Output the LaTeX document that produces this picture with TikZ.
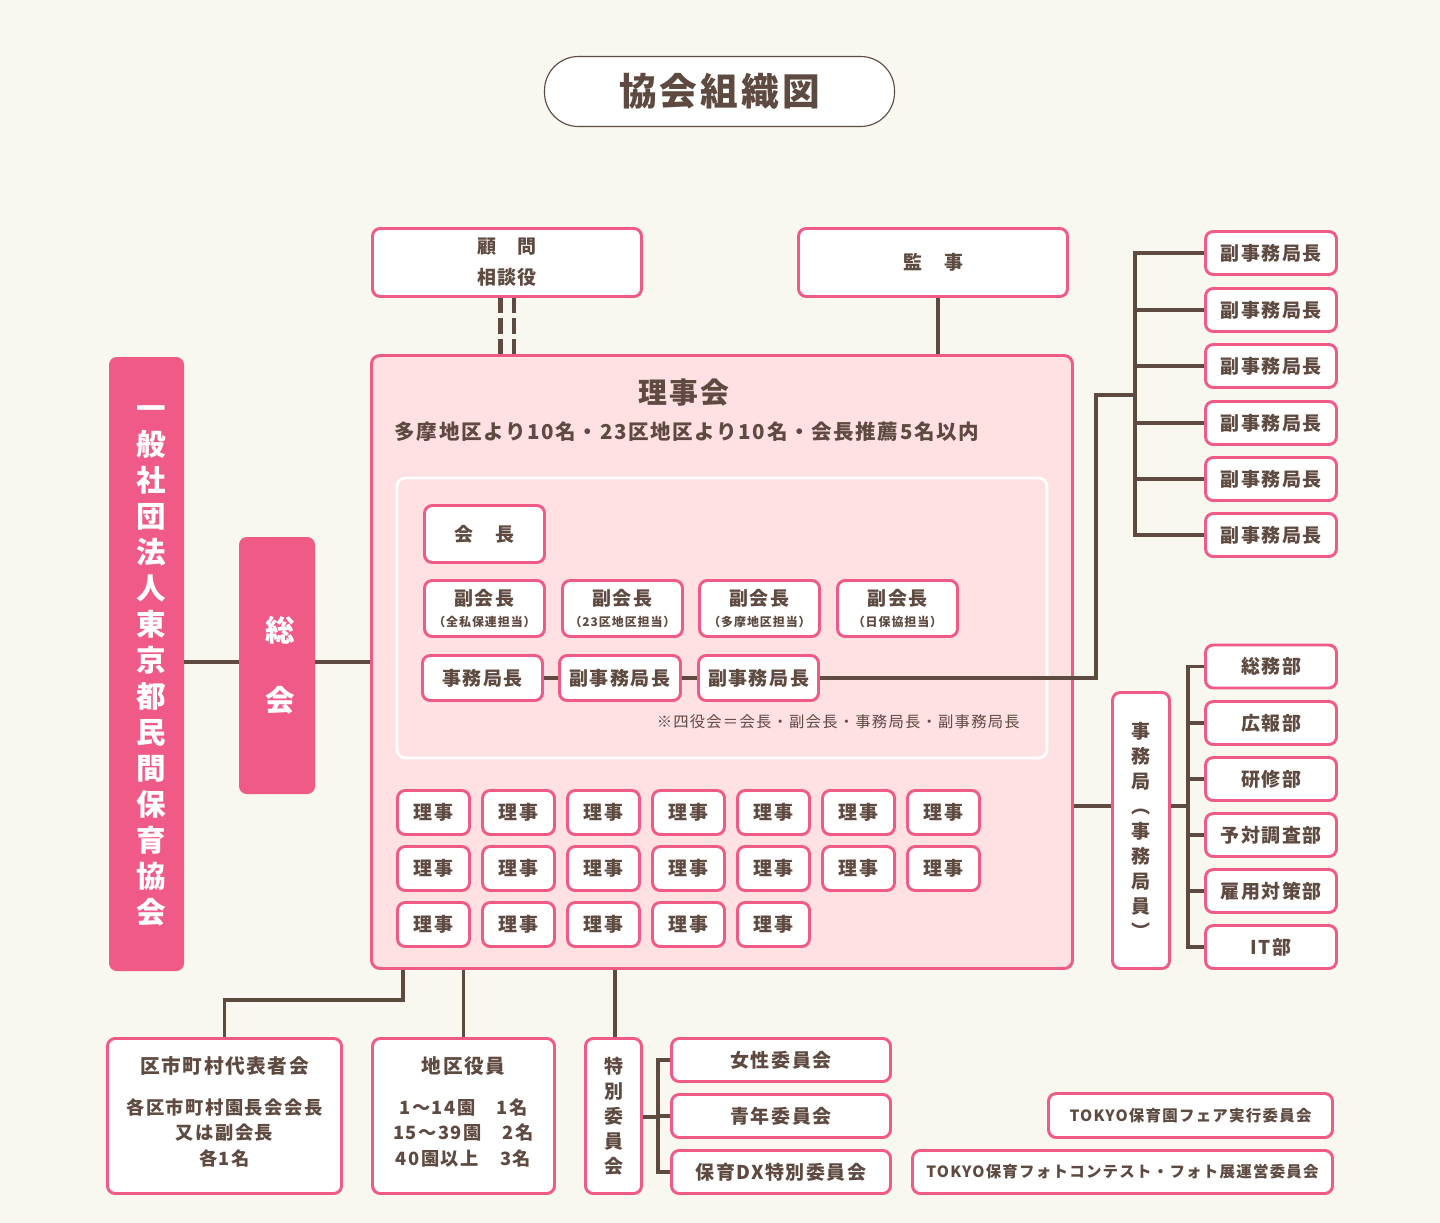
\documentclass[tikz,border=0pt]{standalone}
\usepackage{fontspec}
\setmainfont{Noto Sans CJK JP}[LetterSpace=8]
\usetikzlibrary{calc}
\definecolor{bgcream}{HTML}{F8F7F0}
\definecolor{rosepink}{HTML}{F05A86}
\definecolor{blushpink}{HTML}{FFE0E3}
\definecolor{cocoa}{HTML}{5E4A40}
\newcommand{\pxu}{0.025cm}
\newcommand{\fsz}[2]{\fontsize{#1}{#2}\selectfont}

\begin{document}
\begin{tikzpicture}[x=0.025cm,y=-0.025cm,
    wire/.style={draw=cocoa,line width=2.4pt},
    card/.style 2 args={draw=rosepink,fill=white,line width=2.1pt,rounded corners=5.5pt,
        inner sep=0pt,minimum width=#1*\pxu,minimum height=#2*\pxu,align=center,
        text=cocoa,font=\bfseries\fsz{13.5}{22}},
    banner/.style 2 args={fill=rosepink,rounded corners=5.5pt,inner sep=0pt,
        minimum width=#1*\pxu,minimum height=#2*\pxu},
    label/.style={text=cocoa,inner sep=0pt,font=\bfseries}]
    % page
    \fill[bgcream] (0,0) rectangle (1440,1223);
    \useasboundingbox (0,0) rectangle (1440,1223);
    % title
    \node[draw=cocoa,line width=0.8pt,fill=white,rounded corners=0.85cm,inner sep=0pt,
          minimum width=350*\pxu,minimum height=70*\pxu,text=cocoa,
          font=\bfseries\fsz{26.8}{30}] (title) at (719.5,91.5) {協会組織図};
    % board of directors
    \node[draw=rosepink,fill=blushpink,line width=2.1pt,rounded corners=6pt,
          minimum width=701*\pxu,minimum height=613*\pxu] (rijikai) at (722,662) {};
    \node[draw=white,line width=2pt,rounded corners=6pt,
          minimum width=650*\pxu,minimum height=280*\pxu] (panel) at (722,618) {};
    \node[label,font=\bfseries\fsz{20.5}{22}] (rjtitle) at (684,393) {理事会};
    \node[label,font=\bfseries\fsz{14.6}{16}] (rjsub) at (687,432)
        {多摩地区より10名・23区地区より10名・会長推薦5名以内};
    % officers
    \node[card={120}{57}] (kaicho) at (484.5,534) {会　長};
    \foreach \i/\x/\txt in {1/484.5/全私保連担当,2/622.5/23区地区担当,3/759.5/多摩地区担当,4/897.5/日保協担当}
        \node[card={120}{56}] (vice\i) at (\x,608.5)
            {副会長\\[-7pt]{\fsz{8.5}{10}（\txt）}};
    \node[card={120}{45}] (jim) at (482.5,678) {事務局長};
    \node[card={121}{45}] (fj1) at (620,678) {副事務局長};
    \node[card={120}{45}] (fj2) at (758.5,678) {副事務局長};
    \node[text=cocoa,inner sep=0pt,anchor=east,font=\fsz{10.9}{12}] (note) at (1020,722)
        {※四役会＝会長・副会長・事務局長・副事務局長};
    % directors (7 + 7 + 5)
    \foreach \r/\y/\n in {1/812.5/7,2/868.5/7,3/924.5/5}
        \foreach \c in {1,...,\n}
            \node[card={72}{44}] (riji\r\c) at ({433.5+85*(\c-1)},\y) {理事};
    % advisers and auditor
    \node[card={269}{68}] (komon) at (507,262.5) {顧　問\\相談役};
    \node[card={269}{68}] (kanji) at (933,262.5) {監　事};
    % association and general meeting
    \node[banner={75}{614}] (org) at (146.5,664) {};
    \node[align=center,text=white,inner sep=0pt,font=\bfseries\fsz{21}{25.6}] (orgname)
        at ($(org)+(4.5,2)$)
        {一\\般\\社\\団\\法\\人\\東\\京\\都\\民\\間\\保\\育\\協\\会};
    \node[banner={76}{257}] (sokai) at (277,665.5) {};
    \node[align=center,text=white,inner sep=0pt,font=\bfseries\fsz{21}{50}] (sokainame)
        at ($(sokai)+(3,0)$) {総\\会};
    % deputy secretaries
    \foreach \i/\y in {1/253,2/310,3/366,4/423,5/479,6/535}
        \node[card={131}{43}] (sub\i) at (1271,\y) {副事務局長};
    % secretariat and departments
    \node[card={57}{276},font=\bfseries\fsz{13.5}{17.8}] (jimukyoku) at (1141,830.5)
        {事\\務\\局\\︵\\事\\務\\局\\員\\︶};
    \foreach \i/\y/\txt in {1/666.5/総務部,2/723/広報部,3/779/研修部,4/835/予対調査部,5/891/雇用対策部,6/947/IT部}
        \node[card={131}{43}] (dept\i) at (1271,\y) {\txt};
    % bottom row
    \node[card={234}{155}] (kushi) at (224.5,1116) {};
    \node[label,align=center,font=\bfseries\fsz{13}{18}] (kushitext) at ($(kushi)+(0,-4)$)
        {{\fsz{14}{18}区市町村代表者会}\\[11pt]各区市町村園長会会長\\又は副会長\\各1名};
    \node[card={182}{155}] (chiku) at (463.5,1116) {};
    \node[label,align=center,font=\bfseries\fsz{13}{18}] (chikutext) at ($(chiku)+(0,-4)$)
        {{\fsz{14}{18}地区役員}\\[11pt]1～14園　1名\\15～39園　2名\\40園以上　3名};
    \node[card={56}{155},font=\bfseries\fsz{13.5}{17.8}] (tokubetsu) at (613.5,1116)
        {特\\別\\委\\員\\会};
    \foreach \i/\y/\txt in {1/1060/女性委員会,2/1116/青年委員会,3/1172/保育DX特別委員会}
        \node[card={219}{43}] (com\i) at (781,\y) {\txt};
    \node[card={284}{44},font=\bfseries\fsz{11}{13}] (fair) at (1190.5,1115.5)
        {TOKYO保育園フェア実行委員会};
    \node[card={420}{43},font=\bfseries\fsz{11}{13}] (photo) at (1122.5,1172)
        {TOKYO保育フォトコンテスト・フォト展運営委員会};
    % connectors
    \coordinate (adv1) at ($(komon.south)+(-6.5,0)$);
    \coordinate (adv2) at ($(komon.south)+(7,0)$);
    \draw[wire,line width=3.4pt,dash pattern=on 0.38cm off 0.13cm] (adv1) -- (adv1 |- rijikai.north);
    \draw[wire,line width=2.2pt,dash pattern=on 0.38cm off 0.13cm] (adv2) -- (adv2 |- rijikai.north);
    \coordinate (audit) at ($(kanji.south)+(5,0)$);
    \draw[wire] (audit) -- (audit |- rijikai.north);
    \draw[wire] (org.east |- rijikai.west) -- (sokai.west |- rijikai.west);
    \draw[wire] (sokai.east |- rijikai.west) -- (rijikai.west);
    \draw[wire] (jim.east) -- (fj1.west);
    \draw[wire] (fj1.east) -- (fj2.west);
    \coordinate (turn) at (1096,395);
    \coordinate (subtrunk) at (1135,395);
    \draw[wire] (fj2.east) -| (turn) -- (subtrunk);
    \draw[wire] (sub1.west) -| (subtrunk |- sub6.west) -- (sub6.west);
    \foreach \i in {2,...,5}
        \draw[wire] (subtrunk |- sub\i.west) -- (sub\i.west);
    \coordinate (depttrunk) at (1188,806);
    \draw[wire] (rijikai.east |- depttrunk) -- (jimukyoku.west |- depttrunk);
    \draw[wire] (jimukyoku.east |- depttrunk) -- (depttrunk);
    \draw[wire] (dept1.west) -| (depttrunk |- dept6.west) -- (dept6.west);
    \foreach \i in {2,...,5}
        \draw[wire] (depttrunk |- dept\i.west) -- (dept\i.west);
    \coordinate (kudrop) at (403,970);
    \draw[wire] (kudrop) -- ++(0,30) -| (kushi.north);
    \draw[wire] (chiku.north) -- (chiku.north |- rijikai.south);
    \coordinate (tkdrop) at (615,970);
    \draw[wire] (tkdrop) -- (tkdrop |- tokubetsu.north);
    \coordinate (comtrunk) at (658,1117);
    \draw[wire] (tokubetsu.east |- comtrunk) -- (comtrunk);
    \draw[wire] (com1.west) -| (comtrunk |- com3.west) -- (com3.west);
    \draw[wire] (comtrunk |- com2.west) -- (com2.west);
\end{tikzpicture}
\end{document}
